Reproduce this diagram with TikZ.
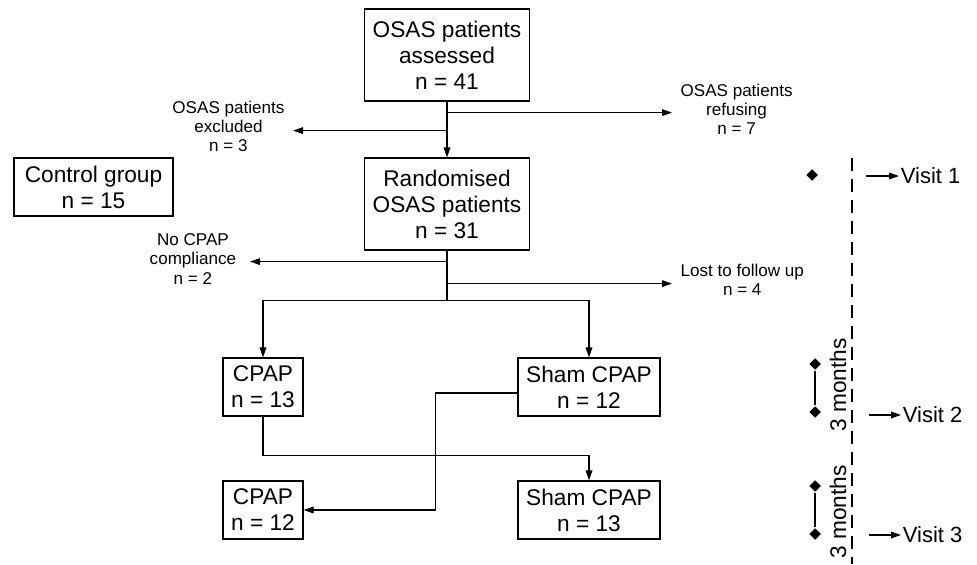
\documentclass[tikz,border=0pt]{standalone}
\usepackage{fontspec}
\setmainfont{Liberation Sans}
\usetikzlibrary{arrows.meta,shapes.geometric,calc}

\tikzset{
  box/.style={draw, align=center, inner sep=0pt, font=\fontsize{17}{19.5}\selectfont},
  bigbox/.style={box, minimum width=123.75pt, minimum height=69pt},
  smallbox/.style={box, minimum height=43.5pt},
  sidelab/.style={align=center, inner xsep=6pt, inner ysep=0pt, font=\fontsize{12.8}{14.3}\selectfont},
  arr/.style={-{Triangle[length=7.5pt,width=5pt]}},
  dot/.style={diamond, fill, inner sep=0pt, minimum size=9pt},
  visit/.style={anchor=west, inner sep=1pt, font=\fontsize{16.5}{19.5}\selectfont},
  months/.style={rotate=90, inner sep=0pt, font=\fontsize{17}{19.5}\selectfont},
}

\begin{document}
\begin{tikzpicture}[x=0.75pt, y=-0.75pt, line width=0.9pt]
    \useasboundingbox (0,0) rectangle (977,564);

    % boxes
    \node[bigbox] (assessed) at (447,55) {OSAS patients\\assessed\\n = 41};
    \node[bigbox] (randomised) at (447,204) {Randomised\\OSAS patients\\n = 31};
    \node[smallbox, minimum width=119.25pt] (control) at (93.5,187) {Control group\\n = 15};
    \node[smallbox, minimum width=60pt] (cpapA) at (263,387) {CPAP\\n = 13};
    \node[smallbox, minimum width=106.5pt] (shamA) at (589,387) {Sham CPAP\\n = 12};
    \node[smallbox, minimum width=60pt] (cpapB) at (263,510) {CPAP\\n = 12};
    \node[smallbox, minimum width=106.5pt] (shamB) at (589,510) {Sham CPAP\\n = 13};

    % side labels
    \node[sidelab, anchor=east] (excluded) at (293,126) {OSAS patients\\excluded\\n = 3};
    \node[sidelab, anchor=west] (refusing) at (672,109) {OSAS patients\\refusing\\n = 7};
    \node[sidelab, anchor=east, inner xsep=10pt] (nocompl) at (250,259) {No CPAP\\compliance\\n = 2};
    \node[sidelab, anchor=west] (lost) at (672,280) {Lost to follow up\\n = 4};

    % branch points
    \coordinate (b1) at ($(assessed.south)+(0,29)$);
    \coordinate (b2) at ($(assessed.south)+(0,11)$);
    \coordinate (b3) at ($(randomised.south)+(0,11)$);
    \coordinate (b4) at ($(randomised.south)+(0,33)$);
    \coordinate (split) at ($(randomised.south)+(0,50)$);

    \draw[arr] (assessed) -- (randomised);
    \draw[arr] (b1) -- (b1 -| excluded.east);
    \draw[arr] (b2) -- (b2 -| refusing.west);
    \draw (randomised.south) -- (split);
    \draw[arr] (b3) -- (b3 -| nocompl.east);
    \draw[arr] (b4) -- (b4 -| lost.west);
    \draw[arr] (split) -| (cpapA.north);
    \draw[arr] (split) -| (shamA.north);

    % cross over
    \draw[arr] (cpapA.south) -- ++(0,39) -| (shamB.north);
    \draw[arr] ($(shamA.west)+(0,6)$) -- ++(-82,0) |- (cpapB.east);

    % time line
    \draw[dash pattern=on 9.75pt off 6pt, line width=0.8pt] (852,158) -- (852,564);
    \node[dot] (d1) at (812,175) {};
    \node[dot] (d2a) at (815,364) {};
    \node[dot] (d2b) at (815,412) {};
    \node[dot] (d3a) at (815,486) {};
    \node[dot] (d3b) at (815,534) {};
    \draw (d2a) -- (d2b);
    \draw (d3a) -- (d3b);
    \node[months] (m2) at (838,385) {3 months};
    \node[months] (m3) at (838,512) {3 months};

    \coordinate (v1) at (866,176);
    \coordinate (v2) at (869,415);
    \coordinate (v3) at (869,535);
    \node[visit] (visit1) at (899,176) {Visit 1};
    \node[visit] (visit2) at (901,415) {Visit 2};
    \node[visit] (visit3) at (901,535) {Visit 3};
    \draw[arr] (v1) -- (visit1.west);
    \draw[arr] (v2) -- (visit2.west);
    \draw[arr] (v3) -- (visit3.west);
\end{tikzpicture}
\end{document}
